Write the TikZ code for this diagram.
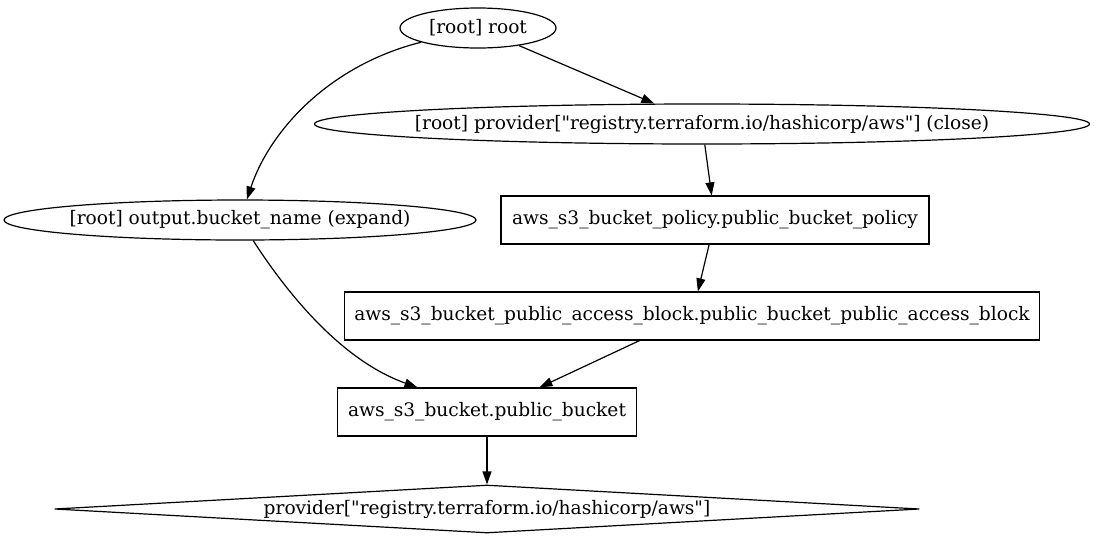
\documentclass[tikz,border=0pt]{standalone}
\usepackage{fontspec}
\setmainfont{DejaVu Serif}[Ligatures=TeXOff]
\usetikzlibrary{shapes.geometric,arrows.meta}

\tikzset{
  ell/.style={draw, ellipse, inner sep=0pt, minimum height=40pt},
  res/.style={draw, rectangle, inner sep=0pt, minimum height=48pt},
  prov/.style={draw, diamond, aspect=18, inner sep=0pt, minimum width=865pt, minimum height=48pt},
  edge/.style={-{Triangle[length=13pt,width=9pt]}}
}

\begin{document}
\begin{tikzpicture}[x=1pt, y=-1pt, line width=1.2pt, font=\fontsize{18.6pt}{22pt}\selectfont]
% Fix the page to the reference size
\useasboundingbox (0,0) rectangle (1098,539);

% Graph nodes
\node[ell, minimum width=156pt, label=center:{[root] root}] (root) at (478,28) {};
\node[ell, minimum width=775pt, label=center:{[root] provider["registry.terraform.io/hashicorp/aws"] (close)}] (close) at (702,124) {};
\node[ell, minimum width=472pt, label=center:{[root] output.bucket\_name (expand)}] (output) at (240,220) {};
\node[res, minimum width=428pt] (policy) at (715,220) {aws\_s3\_bucket\_policy.public\_bucket\_policy};
\node[res, minimum width=695pt] (block) at (692,316) {aws\_s3\_bucket\_public\_access\_block.public\_bucket\_public\_access\_block};
\node[res, minimum width=299pt] (bucket) at (487,412) {aws\_s3\_bucket.public\_bucket};
\node[prov] (provider) at (487,509) {provider["registry.terraform.io/hashicorp/aws"]};

% Dependency edges
\draw[edge] (root) -- (close);
\draw[edge] (root) .. controls (330,65) and (270,130) .. (output);
\draw[edge] (close) -- (policy);
\draw[edge] (policy) -- (block);
\draw[edge] (output) .. controls (285,290) and (340,360) .. (bucket);
\draw[edge] (block) -- (bucket);
\draw[edge] (bucket) -- (provider);
\end{tikzpicture}
\end{document}
